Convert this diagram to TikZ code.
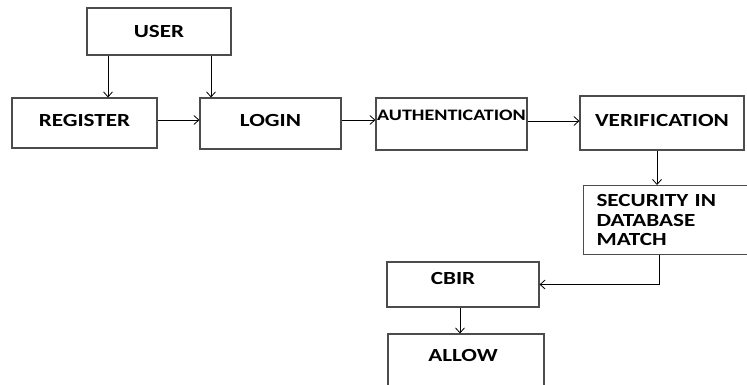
\documentclass[tikz,border=0pt]{standalone}
\usepackage{fontspec}
\setmainfont{Carlito}[FakeStretch=1.25]
\usetikzlibrary{arrows.meta}

\begin{document}
\begin{tikzpicture}[x=1pt,y=-1pt,
        box/.style={draw=black!70,line width=1.1pt,inner sep=0pt,
                font=\bfseries\fontsize{18.5}{19.5}\selectfont},
        txt/.style={inner sep=0pt,anchor=north,font=\bfseries\fontsize{18.5}{19.5}\selectfont},
        arr/.style={-{Straight Barb[length=5pt,width=9pt]},line width=0.8pt}]
    \useasboundingbox (0,0) rectangle (747,385);
    \clip (0,0) rectangle (747,385);
    % boxes
    \node[box,minimum width=144,minimum height=47] (user) at (159,31.5) {USER};
    \node[box,minimum width=145,minimum height=50,text depth=6pt] (register) at (84.5,123) {REGISTER};
    \node[box,minimum width=141,minimum height=51,text depth=6pt] (login) at (270.5,123.5) {LOGIN};
    \node[box,minimum width=151,minimum height=52,
        label={[txt,yshift=-12pt,font=\bfseries\fontsize{16}{18}\selectfont]north:AUTHENTICATION}] (auth) at (451.5,124) {};
    \node[box,minimum width=164,minimum height=54,text depth=6pt] (verif) at (662,123) {VERIFICATION};
    \node[box,anchor=north west,minimum height=69,text width=160pt,inner xsep=13pt,align=left] (secu) at (583,185)
        {SECURITY IN\\DATABASE\\MATCH};
    \node[box,minimum width=152,minimum height=45,
        label={[txt,yshift=-11pt,xshift=-10pt]north:CBIR}] (cbir) at (463,284.5) {};
    \node[box,minimum width=156,minimum height=70,
        label={[txt,yshift=-16pt,xshift=-3pt]north:ALLOW}] (allow) at (466,369) {};
    % connectors
    \draw[arr] ([xshift=-51pt]user.south) -- ([xshift=-51pt]user.south |- register.north);
    \draw[arr] ([xshift=52pt]user.south) -- ([xshift=52pt]user.south |- login.north);
    \foreach \a/\b/\s in {register/login/3,login/auth/3.5,auth/verif/3}{
            \draw[arr] ([yshift=\s pt]\a.east) -- ([yshift=\s pt]\a.east -| \b.west);
        }
    \draw[arr] ([xshift=-5pt]verif.south) -- ([xshift=-5pt]verif.south |- secu.north);
    \draw[arr] ([xshift=-17pt]secu.south) |- (cbir.east);
    \draw[arr] ([xshift=-3pt]cbir.south) -- ([xshift=-3pt]cbir.south |- allow.north);
\end{tikzpicture}
\end{document}
